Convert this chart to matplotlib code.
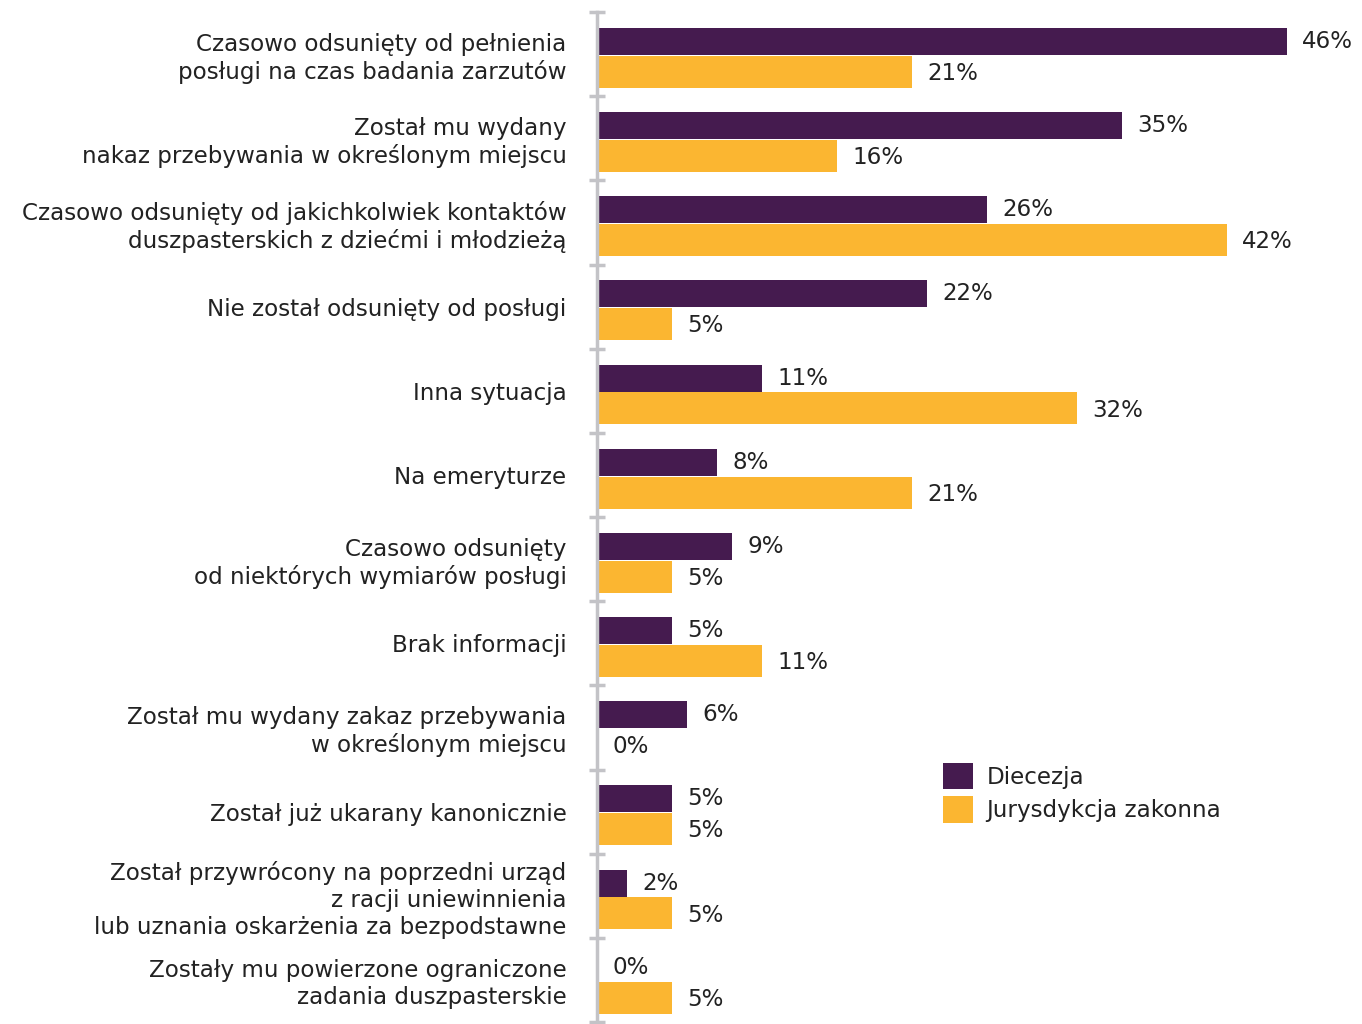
import numpy as np
import matplotlib.pyplot as plt

plt.rcParams['font.family'] = ['DejaVu Sans']

categories = [
    "Czasowo odsunięty od pełnienia\nposługi na czas badania zarzutów",
    "Został mu wydany\nnakaz przebywania w określonym miejscu",
    "Czasowo odsunięty od jakichkolwiek kontaktów\nduszpasterskich z dziećmi i młodzieżą",
    "Nie został odsunięty od posługi",
    "Inna sytuacja",
    "Na emeryturze",
    "Czasowo odsunięty\nod niektórych wymiarów posługi",
    "Brak informacji",
    "Został mu wydany zakaz przebywania\nw określonym miejscu",
    "Został już ukarany kanonicznie",
    "Został przywrócony na poprzedni urząd\nz racji uniewinnienia\nlub uznania oskarżenia za bezpodstawne",
    "Zostały mu powierzone ograniczone\nzadania duszpasterskie",
]
diecezja = [46, 35, 26, 22, 11, 8, 9, 5, 6, 5, 2, 0]
zakonna = [21, 16, 42, 5, 32, 21, 5, 11, 0, 5, 5, 5]

purple = '#451B4F'
yellow = '#FBB631'
grey = '#C3C3C7'
txt = '#222222'
fs = 16.6

fig = plt.figure(figsize=(13.62, 10.24), dpi=100)
ax = fig.add_axes([597 / 1362, 2 / 1024, 1 - 597 / 1362, 1010 / 1024])

y = np.arange(len(categories))
ax.barh(y - 0.15, diecezja, height=0.32, color=purple, label='Diecezja')
ax.barh(y + 0.21, zakonna, height=0.38, color=yellow, label='Jurysdykcja zakonna')

for i in range(len(categories)):
    ax.annotate(f"{diecezja[i]}%", (diecezja[i], y[i] - 0.15), xytext=(11, 0),
                textcoords='offset points', va='center', ha='left', fontsize=fs, color=txt)
    ax.annotate(f"{zakonna[i]}%", (zakonna[i], y[i] + 0.23), xytext=(11, 0),
                textcoords='offset points', va='center', ha='left', fontsize=fs, color=txt)

ax.set_xlim(0, 51)
ax.set_ylim(11.5, -0.5)
ax.set_yticks(y)
ax.set_yticklabels(categories, fontsize=fs, color=txt, linespacing=1.2)
ax.tick_params(axis='y', which='major', length=0, pad=22)
ax.set_yticks(np.arange(-0.5, 12, 1), minor=True)
ax.tick_params(axis='y', which='minor', length=12, width=2.5, color=grey, direction='inout')
ax.set_xticks([])

for s in ['top', 'right', 'bottom']:
    ax.spines[s].set_visible(False)
ax.spines['left'].set_color(grey)
ax.spines['left'].set_linewidth(2.5)

fig.legend(loc='upper left', bbox_to_anchor=(922 / 1362, 1 - 742 / 1024), frameon=False,
           fontsize=fs, handlelength=1.3, handleheight=1.4, labelspacing=0.3,
           handletextpad=0.6, labelcolor=txt)

fig.savefig('out.png', dpi=100)
